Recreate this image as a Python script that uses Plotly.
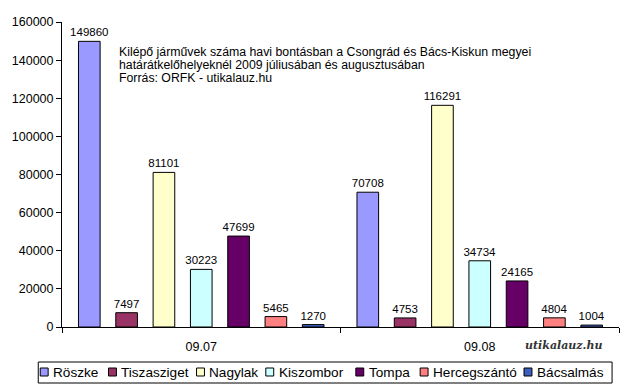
import plotly.graph_objects as go

# ---- data ----
months = ["09.07", "09.08"]
crossings = ["Röszke", "Tiszasziget", "Nagylak", "Kiszombor", "Tompa", "Hercegszántó", "Bácsalmás"]
july = [149860, 7497, 81101, 30223, 47699, 5465, 1270]
august = [70708, 4753, 116291, 34734, 24165, 4804, 1004]
colors = ["#9999FF", "#993366", "#FFFFCC", "#CCFFFF", "#660066", "#FF8080", "#3D5FBF"]
title_lines = [
    "Kilépő járművek száma havi bontásban a Csongrád és Bács-Kiskun megyei",
    "határátkelőhelyeknél 2009 júliusában és augusztusában",
    "Forrás: ORFK - utikalauz.hu",
]
y_ticks = [0, 20000, 40000, 60000, 80000, 100000, 120000, 140000, 160000]

FONT = "Liberation Sans, Arial, sans-serif"
W, H = 640, 391
L, R, T, B = 56, 619, 22, 327


def px(x):
    return (x - L) / (R - L)


def py(y):
    return (B - y) / (B - T)


fig = go.Figure()
for name, c, a, b in zip(crossings, colors, july, august):
    fig.add_trace(go.Bar(
        x=months, y=[a, b], name=name,
        marker=dict(color=c, line=dict(color="#000000", width=1)),
        text=[str(a), str(b)], textposition="outside", constraintext="none",
        textfont=dict(family=FONT, size=11.5, color="#000000"),
        cliponaxis=False, showlegend=False, hoverinfo="x+y+name",
    ))

shapes = []
annotations = []

# legend (manual, compact like the original)
shapes.append(dict(type="rect", xref="paper", yref="paper",
                   x0=px(32), x1=px(612), y0=py(362), y1=py(383),
                   line=dict(color="#000000", width=1), fillcolor="rgba(0,0,0,0)"))
sq_x = [34, 103, 192, 262, 353, 418, 523]
for name, c, sx in zip(crossings, colors, sq_x):
    shapes.append(dict(type="rect", xref="paper", yref="paper",
                       x0=px(sx), x1=px(sx + 8), y0=py(368), y1=py(376),
                       line=dict(color="#000000", width=1), fillcolor=c))
    annotations.append(dict(text=name, xref="paper", yref="paper",
                            x=px(sx + 11), y=py(372), xanchor="left", yanchor="middle",
                            showarrow=False, font=dict(family=FONT, size=13.6, color="#000000")))

# title text block (one annotation per line, tight line spacing like the original)
for line, ly in zip(title_lines, [51.5, 64.5, 78]):
    annotations.append(dict(text=line, xref="paper", yref="paper",
                            x=px(112), y=py(ly), xanchor="left", yanchor="middle", align="left",
                            showarrow=False, font=dict(family=FONT, size=12.3, color="#000000")))

# watermark
annotations.append(dict(text="<b><i>utikalauz.hu</i></b>", xref="paper", yref="paper",
                        x=px(522), y=py(345), xanchor="left", yanchor="middle",
                        showarrow=False, font=dict(family="DejaVu Serif, serif", size=11, color="#333333")))

fig.update_layout(
    width=W, height=H,
    margin=dict(l=L, r=W - R, t=T, b=H - B, pad=0),
    paper_bgcolor="#FFFFFF", plot_bgcolor="#FFFFFF",
    barmode="group", bargap=0.062, bargroupgap=0.42,
    font=dict(family=FONT, size=12, color="#000000"),
    shapes=shapes, annotations=annotations,
    showlegend=False,
)
fig.update_yaxes(range=[0, 160000], tickvals=y_ticks, tickformat="d", showgrid=False, zeroline=False,
                 showline=True, linecolor="#000000", linewidth=1,
                 ticks="outside", ticklen=5, tickcolor="#000000",
                 tickfont=dict(family=FONT, size=12.5, color="#000000"))
fig.update_xaxes(showgrid=False, showline=True, linecolor="#000000", linewidth=1,
                 ticks="outside", ticklen=5, tickcolor="#000000", tickson="boundaries",
                 ticklabelstandoff=8,
                 tickfont=dict(family=FONT, size=12.5, color="#000000"))

fig.write_html("out.html", config={"displayModeBar": False},
               post_script="document.body.style.margin='0';document.body.style.overflow='hidden';")
